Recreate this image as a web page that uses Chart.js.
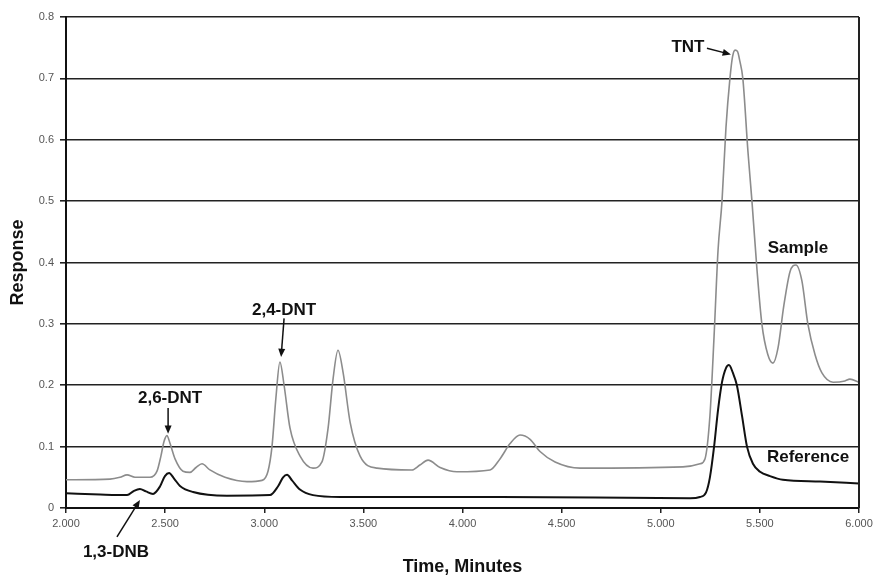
<!DOCTYPE html>
<html>
<head>
<meta charset="utf-8">
<script src="https://cdn.jsdelivr.net/npm/chart.js@4.4.1/dist/chart.umd.min.js"></script>
<style>
  html, body { margin: 0; padding: 0; background: #fff; }
</style>
</head>
<body>
<canvas id="chart" width="881" height="580"></canvas>
<script>
// Sample trace (grey)
const sampleTime = [2.000, 2.222, 2.272, 2.308, 2.348, 2.424, 2.459, 2.479, 2.494, 2.509, 2.525, 2.550, 2.590, 2.625, 2.656, 2.686, 2.726, 2.802, 2.913, 2.989,
  3.019, 3.039, 3.059, 3.079, 3.100, 3.130, 3.180, 3.246, 3.291, 3.322, 3.347, 3.372, 3.398, 3.433, 3.483, 3.569, 3.745, 3.785, 3.826, 3.887,
  3.972, 4.139, 4.189, 4.240, 4.290, 4.341, 4.391, 4.467, 4.593, 5.112, 5.198, 5.223, 5.248, 5.269, 5.289, 5.309, 5.329, 5.349, 5.362, 5.375,
  5.387, 5.399, 5.414, 5.440, 5.460, 5.485, 5.510, 5.540, 5.566, 5.591, 5.621, 5.652, 5.682, 5.712, 5.742, 5.778, 5.813, 5.869, 5.929, 5.954,
  6.000];
const sampleResp = [0.046, 0.047, 0.050, 0.054, 0.050, 0.050, 0.060, 0.085, 0.108, 0.118, 0.105, 0.080, 0.060, 0.058, 0.066, 0.072, 0.062, 0.050, 0.043, 0.045,
  0.060, 0.100, 0.180, 0.238, 0.200, 0.130, 0.085, 0.065, 0.075, 0.130, 0.210, 0.257, 0.220, 0.140, 0.085, 0.065, 0.062, 0.070, 0.078, 0.066,
  0.059, 0.062, 0.080, 0.105, 0.119, 0.112, 0.092, 0.075, 0.065, 0.067, 0.072, 0.080, 0.150, 0.280, 0.420, 0.500, 0.620, 0.700, 0.735, 0.746,
  0.744, 0.728, 0.700, 0.580, 0.500, 0.390, 0.300, 0.250, 0.236, 0.260, 0.330, 0.385, 0.396, 0.370, 0.300, 0.250, 0.220, 0.205, 0.207, 0.210,
  0.205];

// Reference trace (black)
const refTime = [2.000, 2.172, 2.308, 2.343, 2.373, 2.403, 2.439, 2.474, 2.499, 2.520, 2.545, 2.575, 2.641, 2.812, 3.029, 3.069, 3.095, 3.115, 3.140, 3.180,
  3.246, 3.382, 4.189, 5.148, 5.198, 5.228, 5.248, 5.269, 5.289, 5.309, 5.329, 5.344, 5.364, 5.384, 5.410, 5.435, 5.465, 5.501, 5.551, 5.616,
  5.803, 6.000];
const refResp = [0.024, 0.022, 0.021, 0.028, 0.031, 0.027, 0.023, 0.035, 0.052, 0.057, 0.048, 0.036, 0.026, 0.020, 0.021, 0.035, 0.050, 0.054, 0.045, 0.030,
  0.021, 0.018, 0.018, 0.016, 0.018, 0.025, 0.050, 0.100, 0.160, 0.205, 0.228, 0.233, 0.220, 0.200, 0.150, 0.100, 0.072, 0.059, 0.052, 0.046,
  0.043, 0.040];

const xTicks = [2, 2.5, 3, 3.5, 4, 4.5, 5, 5.5, 6];
const xTickLabels = ['2.000', '2.500', '3.000', '3.500', '4.000', '4.500', '5.000', '5.500', '6.000'];
const yTicks = [0, 0.1, 0.2, 0.3, 0.4, 0.5, 0.6, 0.7, 0.8];
const yTickLabels = ['0', '0.1', '0.2', '0.3', '0.4', '0.5', '0.6', '0.7', '0.8'];

// peak labels, in data coordinates
const notes = [
  { text: 'TNT', x: 5.137, y: 0.751 },
  { text: 'Sample', x: 5.692, y: 0.423 },
  { text: 'Reference', x: 5.743, y: 0.083 },
  { text: '2,4-DNT', x: 3.100, y: 0.322 },
  { text: '2,6-DNT', x: 2.525, y: 0.179 },
  { text: '1,3-DNB', x: 2.252, y: -0.072 }
];
const arrows = [
  { x1: 5.233, y1: 0.749, x2: 5.354, y2: 0.739 },
  { x1: 3.100, y1: 0.309, x2: 3.085, y2: 0.246 },
  { x1: 2.515, y1: 0.163, x2: 2.515, y2: 0.121 },
  { x1: 2.257, y1: -0.047, x2: 2.373, y2: 0.013 }
];

const toPoints = (xs, ys) => xs.map((x, i) => ({ x: x, y: ys[i] }));
const FONT = "'Liberation Sans', Arial, sans-serif";

const notesPlugin = {
  id: 'notes',
  afterDraw(chart) {
    const ctx = chart.ctx;
    const xs = chart.scales.x, ys = chart.scales.y;
    const area = chart.chartArea;
    ctx.save();
    // right frame line
    ctx.strokeStyle = '#222';
    ctx.lineWidth = 2;
    ctx.beginPath();
    ctx.moveTo(area.right, area.top);
    ctx.lineTo(area.right, area.bottom);
    ctx.stroke();

    ctx.fillStyle = '#111';
    ctx.font = 'bold 17px ' + FONT;
    ctx.textAlign = 'center';
    ctx.textBaseline = 'middle';
    notes.forEach(n => {
      ctx.fillText(n.text, xs.getPixelForValue(n.x), ys.getPixelForValue(n.y));
    });

    ctx.strokeStyle = '#111';
    ctx.lineWidth = 1.5;
    arrows.forEach(a => {
      const x1 = xs.getPixelForValue(a.x1), y1 = ys.getPixelForValue(a.y1);
      const x2 = xs.getPixelForValue(a.x2), y2 = ys.getPixelForValue(a.y2);
      const ang = Math.atan2(y2 - y1, x2 - x1);
      const head = 9, wing = 0.4;
      ctx.beginPath();
      ctx.moveTo(x1, y1);
      ctx.lineTo(x2 - Math.cos(ang) * head * 0.7, y2 - Math.sin(ang) * head * 0.7);
      ctx.stroke();
      ctx.beginPath();
      ctx.moveTo(x2, y2);
      ctx.lineTo(x2 - head * Math.cos(ang - wing), y2 - head * Math.sin(ang - wing));
      ctx.lineTo(x2 - head * Math.cos(ang + wing), y2 - head * Math.sin(ang + wing));
      ctx.closePath();
      ctx.fill();
    });
    ctx.restore();
  }
};

new Chart(document.getElementById('chart').getContext('2d'), {
  type: 'scatter',
  data: {
    datasets: [
      {
        label: 'Sample',
        data: toPoints(sampleTime, sampleResp),
        showLine: true,
        borderColor: '#8c8c8c',
        borderWidth: 1.6,
        pointRadius: 0,
        cubicInterpolationMode: 'monotone'
      },
      {
        label: 'Reference',
        data: toPoints(refTime, refResp),
        showLine: true,
        borderColor: '#111',
        borderWidth: 2,
        pointRadius: 0,
        cubicInterpolationMode: 'monotone'
      }
    ]
  },
  options: {
    responsive: false,
    animation: false,
    layout: { padding: { top: 17, right: 22, left: 0, bottom: 0 } },
    plugins: {
      legend: { display: false },
      tooltip: { enabled: false }
    },
    scales: {
      x: {
        type: 'linear',
        min: 2,
        max: 6,
        afterBuildTicks: s => { s.ticks = xTicks.map(v => ({ value: v })); },
        afterFit: s => { s.height = 72; },
        ticks: {
          callback: (v, i) => xTickLabels[i],
          font: { family: FONT, size: 11 },
          color: '#555',
          padding: 4,
          maxRotation: 0
        },
        grid: { drawOnChartArea: false, tickLength: 5, color: '#222', lineWidth: 1.5 },
        border: { color: '#111', width: 2 },
        title: {
          display: true,
          text: 'Time, Minutes',
          font: { family: FONT, size: 18, weight: 'bold' },
          color: '#111',
          padding: { top: 0, bottom: 2 }
        }
      },
      y: {
        min: 0,
        max: 0.8,
        afterBuildTicks: s => { s.ticks = yTicks.map(v => ({ value: v })); },
        afterFit: s => { s.width = 66; },
        ticks: {
          callback: (v, i) => yTickLabels[i],
          font: { family: FONT, size: 11 },
          color: '#555',
          padding: 6
        },
        grid: { color: '#222', lineWidth: 1.6, tickLength: 6 },
        border: { color: '#111', width: 2 },
        title: {
          display: true,
          text: 'Response',
          font: { family: FONT, size: 18, weight: 'bold' },
          color: '#111',
          padding: { top: 7, bottom: 0 }
        }
      }
    }
  },
  plugins: [notesPlugin]
});
</script>
</body>
</html>
